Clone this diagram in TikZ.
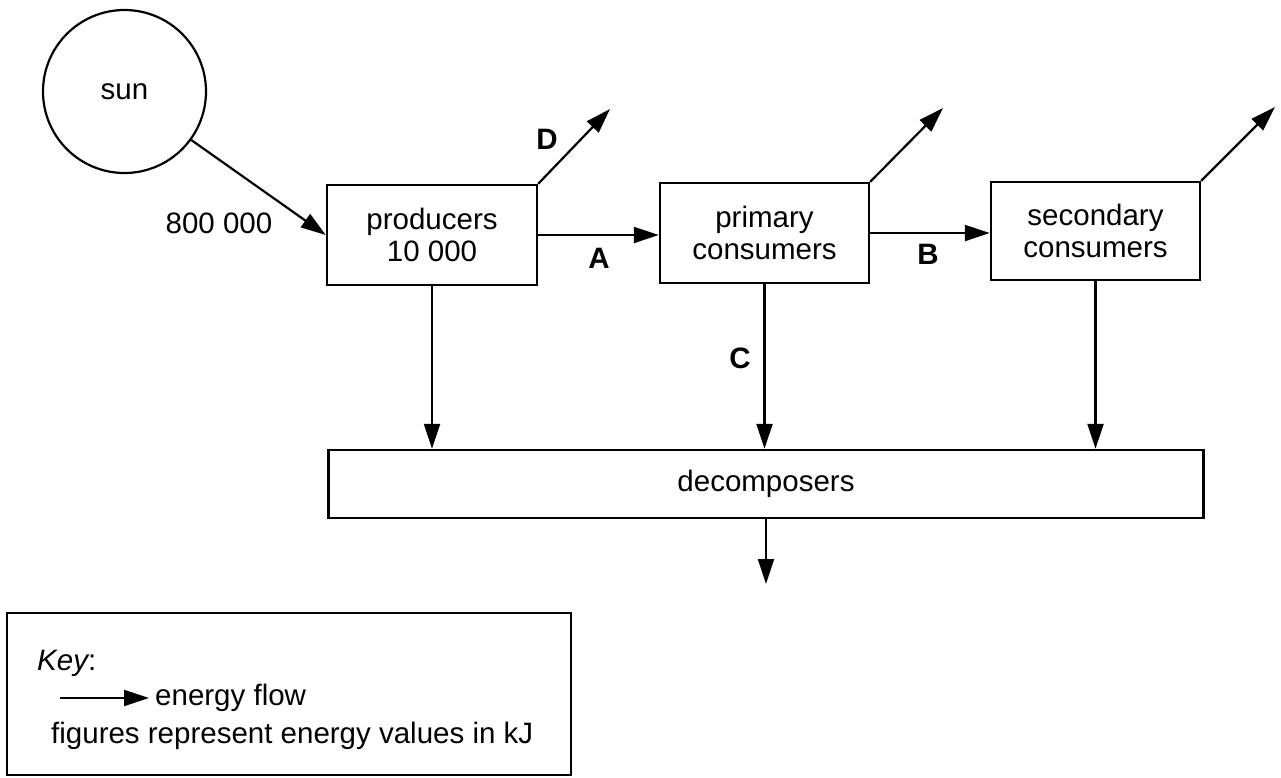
\documentclass[tikz,border=0pt]{standalone}
\usepackage{fontspec}
\setmainfont{Liberation Sans}
\usetikzlibrary{arrows.meta}
\begin{document}
\begin{tikzpicture}[x=1pt,y=-1pt,
  every node/.style={font=\fontsize{29.5}{32}\selectfont, inner sep=0pt},
  box/.style={draw, line width=2.4pt, align=center},
  flow/.style={line width=2.2pt, -{Triangle[length=25pt,width=16pt]}},
  lbl/.style={font=\fontsize{29.5}{32}\selectfont\bfseries}]
\useasboundingbox (0,0) rectangle (1281,777);
% nodes
\node[draw, circle, line width=2.2pt, minimum size=163pt] (sun) at (124.5,91.5) {sun};
\node[box, minimum width=210pt, minimum height=100pt] (prod) at (432,235) {producers\\10 000};
\node[box, minimum width=209pt, minimum height=100pt] (prim) at (764.5,233) {primary\\consumers};
\node[box, minimum width=209pt, minimum height=98pt] (sec) at (1095.5,231) {secondary\\consumers};
\node[box, minimum width=875pt, minimum height=68pt] (decomp) at (766,484) {decomposers};
\coordinate (dD) at (610,109);
\coordinate (dP) at (943,108);
\coordinate (dS) at (1275,107);
\coordinate (dOut) at (766,584);
% connectors
\draw[flow] (sun.-36) -- (prod.west);
\draw[flow] (prod.north east) -- (dD);
\draw[flow] (prim.north east) -- (dP);
\draw[flow] (sec.north east) -- (dS);
\draw[flow] (prod.east) -- (prod.east -| prim.west);
\draw[flow] (prim.east) -- (prim.east -| sec.west);
\draw[flow] (prod.south) -- (prod.south |- decomp.north);
\draw[flow] (prim.south) -- (prim.south |- decomp.north);
\draw[flow] (sec.south) -- (sec.south |- decomp.north);
\draw[flow] (decomp.south) -- (dOut);
% labels
\node (v800) at (219,223) {800 000};
\node[lbl] (lD) at (547,139) {D};
\node[lbl] (lA) at (599,258) {A};
\node[lbl] (lB) at (928,254) {B};
\node[lbl] (lC) at (740,358) {C};
% key
\node[draw, line width=2.2pt, minimum width=564pt, minimum height=162pt] (key) at (289,694) {};
\node[anchor=west] (keyt) at (37,663) {\itshape Key\upshape:};
\coordinate (ka) at (60,698);
\coordinate (kb) at (149,698);
\draw[flow] (ka) -- (kb);
\node[anchor=west] (kef) at (155,698) {energy flow};
\node[anchor=west] (kfig) at (51,736) {figures represent energy values in kJ};
\end{tikzpicture}
\end{document}
